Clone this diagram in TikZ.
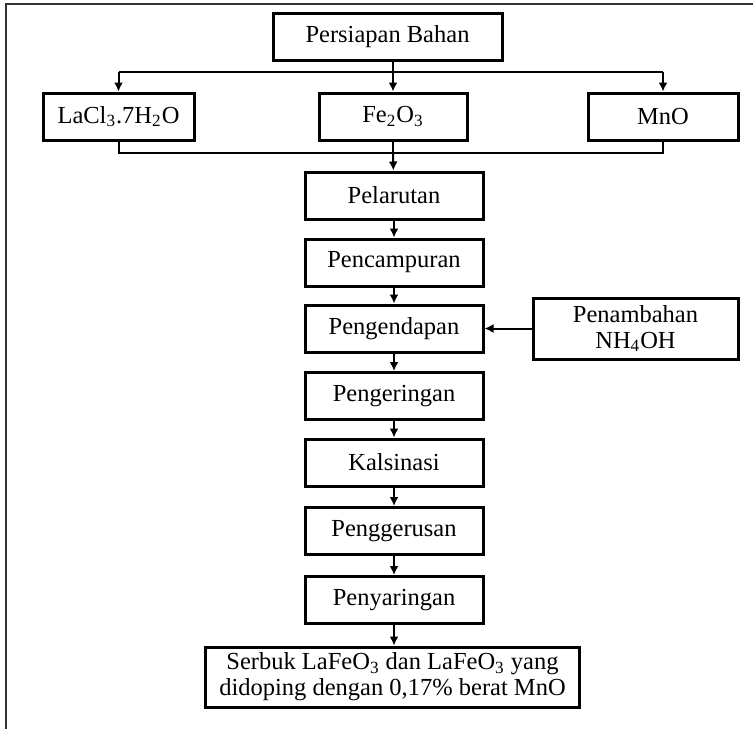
\documentclass[tikz,border=0pt]{standalone}
\usepackage{fontspec}
\setmainfont{Liberation Serif}
\usetikzlibrary{arrows.meta}
\usetikzlibrary{positioning}

\tikzset{
  kotak/.style={draw, line width=1.5pt, inner sep=0pt, minimum height=23.5pt,
    align=center, font=\fontsize{12.25}{13}\selectfont},
  garis/.style={line width=1pt},
  panah/.style={line width=1pt, -{Latex[length=4.5pt,width=4.5pt]}},
}

\begin{document}
\begin{tikzpicture}[x=0.5pt,y=-0.5pt]
\useasboundingbox (0,0) rectangle (753,728);
\clip (0,0) rectangle (753,728);
\draw[line width=1pt,black!80] (6,4) rectangle (790,760);

\node[kotak,minimum width=114.5pt] (persiapan) at (387.5,36.5) {Persiapan Bahan};

\node[kotak,minimum width=75.5pt] (lacl) at (118.5,116.5) {LaCl\textsubscript{3}.7H\textsubscript{2}O};
\node[kotak,minimum width=74pt] (feo) at (393,116.5) {Fe\textsubscript{2}O\textsubscript{3}};
\node[kotak,minimum width=75pt] (mno) at (663,116.5) {MnO};

\foreach \nama/\teks/\y in {pelarutan/Pelarutan/195.5,
    pencampuran/Pencampuran/262.5,
    pengendapan/Pengendapan/328.5,
    pengeringan/Pengeringan/396,
    kalsinasi/Kalsinasi/462.5,
    penggerusan/Penggerusan/531,
    penyaringan/Penyaringan/600}
  \node[kotak,minimum width=89pt] (\nama) at (394,\y) {\teks};

\node[kotak,minimum width=102.5pt,minimum height=30.5pt] (penambahan) at (635.5,328.5)
  {Penambahan\\NH\textsubscript{4}OH};

\node[kotak,minimum width=187pt,minimum height=30pt] (serbuk) at (392.5,677)
  {Serbuk LaFeO\textsubscript{3} dan LaFeO\textsubscript{3} yang\\didoping dengan 0,17\% berat MnO};

\coordinate (bagi) at (393,72);
\coordinate (gabung) at (393,153);

\draw[garis] (persiapan.south -| bagi) -- (bagi);
\draw[garis] (bagi -| lacl) -- (bagi -| mno);
\foreach \n in {lacl,feo,mno}
  \draw[panah] (bagi -| \n) -- (\n);

\draw[garis] (lacl) -- (gabung -| lacl) -- (gabung -| mno) -- (mno);
\draw[garis] (feo) -- (gabung);
\draw[panah] (gabung) -- (pelarutan);

\foreach \a/\b in {pelarutan/pencampuran,pencampuran/pengendapan,
    pengendapan/pengeringan,pengeringan/kalsinasi,kalsinasi/penggerusan,
    penggerusan/penyaringan}
  \draw[panah] (\a) -- (\b);
\draw[panah] (penyaringan) -- (penyaringan |- serbuk.north);

\draw[panah] (penambahan) -- (pengendapan);

\end{tikzpicture}
\end{document}
